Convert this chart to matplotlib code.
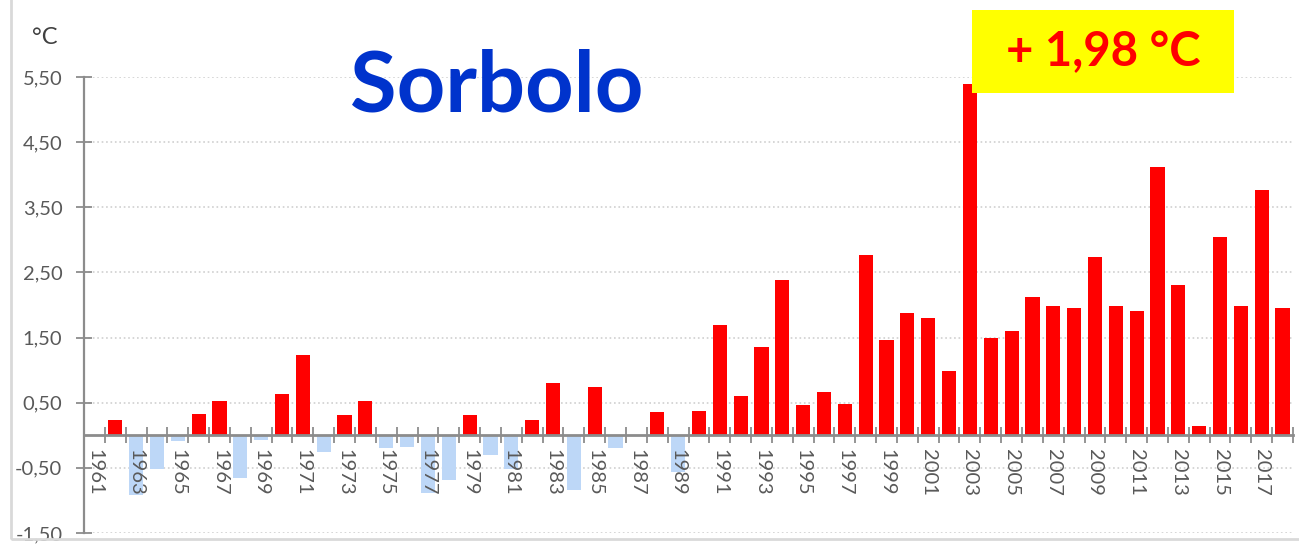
import matplotlib
matplotlib.use("Agg")
from matplotlib import pyplot as plt
from matplotlib.patches import Rectangle
import numpy as np

plt.rcParams['font.family'] = ['Lato', 'DejaVu Sans']

# temperature anomaly per year, Sorbolo
years = list(range(1961, 2019))
anomaly = [
    -0.01, 0.24, -0.91, -0.51, -0.09, 0.32, 0.53, -0.65, -0.07, 0.64,
    1.23, -0.26, 0.31, 0.53, -0.20, -0.18, -0.88, -0.69, 0.31, -0.30,
    -0.51, 0.24, 0.80, -0.84, 0.74, -0.20, -0.01, 0.35, -0.57, 0.38,
    1.70, 0.61, 1.36, 2.38, 0.46, 0.66, 0.48, 2.76, 1.46, 1.88,
    1.80, 0.98, 5.39, 1.50, 1.60, 2.12, 1.99, 1.96, 2.74, 1.99,
    1.91, 4.12, 2.30, 0.15, 3.04, 1.99, 3.76, 1.95,
]
y_ticks = [-1.5, -0.5, 0.5, 1.5, 2.5, 3.5, 4.5, 5.5]
title = "Sorbolo"
trend_text = "+ 1,98 °C"

red = '#ff0000'
light_blue = '#bdd7f7'
grey = '#595959'

fig = plt.figure(figsize=(12.99, 5.44), dpi=100)
ax = fig.add_axes([84 / 1299, 11 / 544, (1293 - 84) / 1299, (533 - 77) / 544])

x = np.arange(len(years))
colors = [red if v >= 0 else light_blue for v in anomaly]
ax.bar(x, anomaly, width=0.68, color=colors, zorder=1)

ax.set_xlim(-0.5, len(years) - 0.5)
ax.set_ylim(-1.5, 5.5)

# grid lines behind the bars, tick labels stay on top
for v in y_ticks:
    ax.axhline(v, color='#d0d0d0', linestyle=':', linewidth=1.2, zorder=0.5)

# y axis
ax.set_yticks(y_ticks)
ax.set_yticklabels([f"{v:.2f}".replace('.', ',') for v in y_ticks])
ax.tick_params(axis='y', direction='inout', length=11, width=1.3, color='#8c8c8c',
               labelsize=14.5, labelcolor=grey, pad=10)

# x axis at zero, ticks between categories, labels every other year
ax.spines['bottom'].set_position(('data', 0))
ax.spines['bottom'].set_color('#8c8c8c')
ax.spines['bottom'].set_linewidth(2)
ax.spines['left'].set_color('#8c8c8c')
ax.spines['left'].set_linewidth(1.6)
ax.spines['top'].set_visible(False)
ax.spines['right'].set_visible(False)

ax.set_xticks(np.arange(len(years) + 1) - 0.5)
ax.set_xticklabels([])
ax.tick_params(axis='x', which='major', direction='inout', length=11, width=1.3,
               color='#8c8c8c')
label_pos = [i for i, yr in enumerate(years) if yr % 2 == 1]
ax.set_xticks(label_pos, minor=True)
ax.set_xticklabels([str(years[i]) for i in label_pos], minor=True, rotation=-90)
ax.tick_params(axis='x', which='minor', length=0, pad=10, labelsize=14.5, labelcolor=grey)

# unit label and title
fig.text(45 / 1299, 1 - 37 / 544, "°C", fontsize=17, color='#404040', ha='center', va='center')
fig.text(497 / 1299, 1 - 111 / 544, title, fontsize=61, fontweight='bold',
         color='#0033cc', ha='center', va='baseline')

# trend box
fig.patches.append(Rectangle((972 / 1299, 1 - 93 / 544), (1234 - 972) / 1299, (93 - 10) / 544,
                             transform=fig.transFigure, facecolor='#ffff00',
                             edgecolor='none', zorder=5))
fig.text(1103 / 1299, 1 - 52 / 544, trend_text, fontsize=34, fontweight='bold', color=red,
         ha='center', va='center', zorder=6)

# chart area frame
fig.patches.append(Rectangle((11 / 1299, 5 / 544), 1.2, 1.2, transform=fig.transFigure,
                             facecolor='none', edgecolor='#d9d9d9', linewidth=2))

fig.savefig("out.png", dpi=100)
